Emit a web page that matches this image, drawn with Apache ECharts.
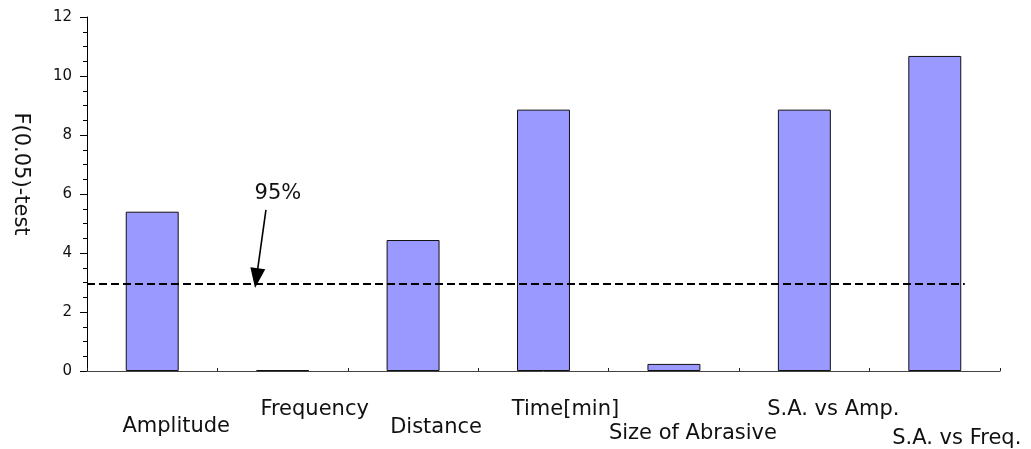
<!DOCTYPE html>
<html>
<head>
<meta charset="utf-8">
<script src="https://cdn.jsdelivr.net/npm/echarts@6/dist/echarts.min.js"></script>
<style>html,body{margin:0;padding:0;background:#fff}#c{width:1031px;height:449px}</style>
</head>
<body>
<div id="c"></div>
<script>
// ---- data ----
const categories = ['Amplitude', 'Frequency', 'Distance', 'Time[min]', 'Size of Abrasive', 'S.A. vs Amp.', 'S.A. vs Freq.'];
const fValues = [5.40, 0.03, 4.44, 8.86, 0.24, 8.86, 10.68];
const thresholdValue = 2.95;
const thresholdSpan = [0, 6.73];          // in category-units along the x range
const arrowFrom = [1.372, 5.46];
const arrowTo = [1.299, 3.15];
const arrowLabel = '95%';
const arrowLabelAt = [1.464, 6.0];
const yMin = 0, yMax = 12, yInterval = 2;
const yAxisName = 'F(0.05)-test';

// ---- label layout (styles only) ----
const labelShiftX = [24, 32, 23, 22, 19, 29, 22];
const labelCenterY = [425, 408, 426, 408, 432, 408, 437];
const FONT = 'DejaVu Sans';
const axisY0 = 371, labelMargin = 6, labelLH = 24, labelNudge = 2;

const rich = {};
categories.forEach((c, i) => {
  rich['l' + i] = {
    fontFamily: FONT, fontSize: 21, color: '#111', lineHeight: labelLH,
    padding: [2 * (labelCenterY[i] + labelNudge - labelLH / 2 - axisY0 - labelMargin), 0, 0, 2 * labelShiftX[i]]
  };
});

const chart = echarts.init(document.getElementById('c'), null, {renderer: 'canvas'});
chart.setOption({
  animation: false,
  backgroundColor: '#fff',
  grid: {left: 87, right: 31, top: 17, bottom: 78, containLabel: false, outerBoundsMode: 'none'},
  xAxis: [{
    type: 'category', data: categories, boundaryGap: true,
    axisLine: {lineStyle: {color: '#444', width: 1}},
    axisTick: {show: true, inside: true, length: 3, alignWithLabel: false, lineStyle: {color: '#222'}},
    axisLabel: {interval: 0, margin: labelMargin, formatter: (v, i) => '{l' + i + '|' + v + '}', rich: rich}
  }, {
    type: 'value', min: 0, max: categories.length, show: false
  }],
  yAxis: [{
    type: 'value', min: yMin, max: yMax, interval: yInterval,
    name: yAxisName, nameLocation: 'middle', nameGap: 56, nameRotate: -90,
    nameTextStyle: {fontFamily: FONT, fontSize: 21, color: '#111', padding: [0, 40, 0, 0]},
    axisLine: {show: true, lineStyle: {color: '#000', width: 1}},
    axisTick: {show: true, length: 7, lineStyle: {color: '#000'}},
    minorTick: {show: true, splitNumber: 4, length: 4, lineStyle: {color: '#000'}},
    splitLine: {show: false},
    axisLabel: {fontFamily: FONT, fontSize: 15, color: '#111', margin: 15}
  }],
  series: [{
    type: 'bar', data: fValues, barWidth: '40.6%',
    itemStyle: {color: '#9999ff', borderColor: '#111', borderWidth: 1}
  }, {
    type: 'line', xAxisIndex: 1, yAxisIndex: 0,
    data: [[thresholdSpan[0], thresholdValue], [thresholdSpan[1], thresholdValue]],
    symbol: 'none', lineStyle: {color: '#000', width: 2, type: [8, 4]},
    markLine: {
      silent: true, symbol: ['none', 'triangle'], symbolSize: [15, 20],
      lineStyle: {color: '#000', width: 1.6, type: 'solid'},
      label: {show: false},
      data: [[{coord: arrowFrom}, {coord: arrowTo}]]
    },
    markPoint: {
      silent: true, symbol: 'circle', symbolSize: 1, itemStyle: {color: 'rgba(0,0,0,0)'},
      label: {show: true, position: 'inside', formatter: arrowLabel, fontFamily: FONT, fontSize: 21, color: '#111'},
      data: [{coord: arrowLabelAt}]
    }
  }]
});
</script>
</body>
</html>
